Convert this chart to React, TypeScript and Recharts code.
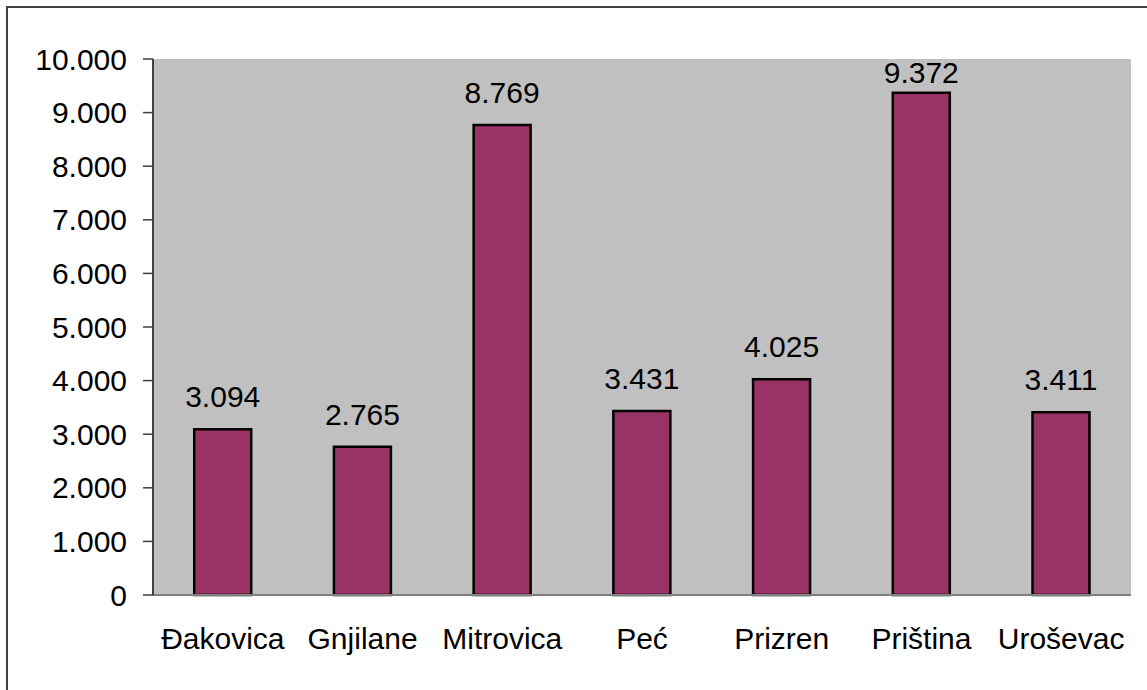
import React from "react";
import { BarChart, Bar, XAxis, YAxis, CartesianGrid, LabelList } from "recharts";

const categories = ["Đakovica", "Gnjilane", "Mitrovica", "Peć", "Prizren", "Priština", "Uroševac"];
const values = [3094, 2765, 8769, 3431, 4025, 9372, 3411];
const yTicks = [0, 1000, 2000, 3000, 4000, 5000, 6000, 7000, 8000, 9000, 10000];
const yTickLabels = ["0", "1.000", "2.000", "3.000", "4.000", "5.000", "6.000", "7.000", "8.000", "9.000", "10.000"];

const data = categories.map((name, i) => ({ name, value: values[i] }));

const fmt = (v: number) => {
  const s = String(Math.round(v));
  return s.replace(/\B(?=(\d{3})+(?!\d))/g, ".");
};

const FONT = "'Liberation Sans', Arial, sans-serif";
const FS = 30;
const PLOT_TOP = 59;
const LABEL_GAP = 22;

const ValueLabel = (props: any) => {
  const { x, y, width, value } = props;
  const baseline = Math.max(Number(y) - LABEL_GAP, PLOT_TOP + 24);
  return (
    <text
      x={Number(x) + Number(width) / 2}
      y={baseline}
      textAnchor="middle"
      fill="#000"
      fontSize={FS}
      fontFamily={FONT}
    >
      {fmt(Number(value))}
    </text>
  );
};

export default function App() {
  return (
    <div style={{ position: "absolute", left: 0, top: 0, width: 1147, height: 690, overflow: "hidden", background: "#fff" }}>
      <div
        style={{
          position: "absolute",
          left: 6,
          top: 6,
          width: 1200,
          height: 800,
          borderTop: "2px solid #404040",
          borderLeft: "2px solid #404040",
        }}
      />
      <div style={{ position: "absolute", left: 0, top: 0 }}>
        <BarChart
          width={1147}
          height={690}
          data={data}
          margin={{ top: PLOT_TOP, left: 53, right: 16, bottom: 35 }}
          barCategoryGap="29.5%"
          style={{ fontFamily: FONT }}
        >
          <CartesianGrid horizontal={false} vertical={false} fill="#C0C0C0" />
          <XAxis
            dataKey="name"
            xAxisId="b"
            height={60}
            axisLine={{ stroke: "#808080", strokeWidth: 2 }}
            tickLine={false}
            tickSize={0}
            tickMargin={33}
            interval={0}
            tick={{ fill: "#000", fontSize: FS, fontFamily: FONT }}
          />
          <XAxis
            dataKey="name"
            xAxisId="t"
            orientation="top"
            height={0}
            axisLine={{ stroke: "#808080", strokeWidth: 2 }}
            tick={false}
            tickLine={false}
          />
          <YAxis
            yAxisId="l"
            width={100}
            domain={[0, 10000]}
            ticks={yTicks}
            interval={0}
            axisLine={{ stroke: "#404040", strokeWidth: 2 }}
            tickLine={{ stroke: "#404040", strokeWidth: 1.5 }}
            tickSize={10}
            tickMargin={16}
            tickFormatter={(v: number) => yTickLabels[yTicks.indexOf(v)] ?? fmt(v)}
            tick={{ fill: "#000", fontSize: FS, fontFamily: FONT }}
          />
          <YAxis
            yAxisId="r"
            orientation="right"
            width={0}
            domain={[0, 10000]}
            axisLine={{ stroke: "#808080", strokeWidth: 2 }}
            tick={false}
            tickLine={false}
          />
          <Bar
            dataKey="value"
            xAxisId="b"
            yAxisId="l"
            fill="#993366"
            stroke="#000"
            strokeWidth={2.5}
            isAnimationActive={false}
          >
            <LabelList dataKey="value" content={<ValueLabel />} />
          </Bar>
        </BarChart>
      </div>
    </div>
  );
}
